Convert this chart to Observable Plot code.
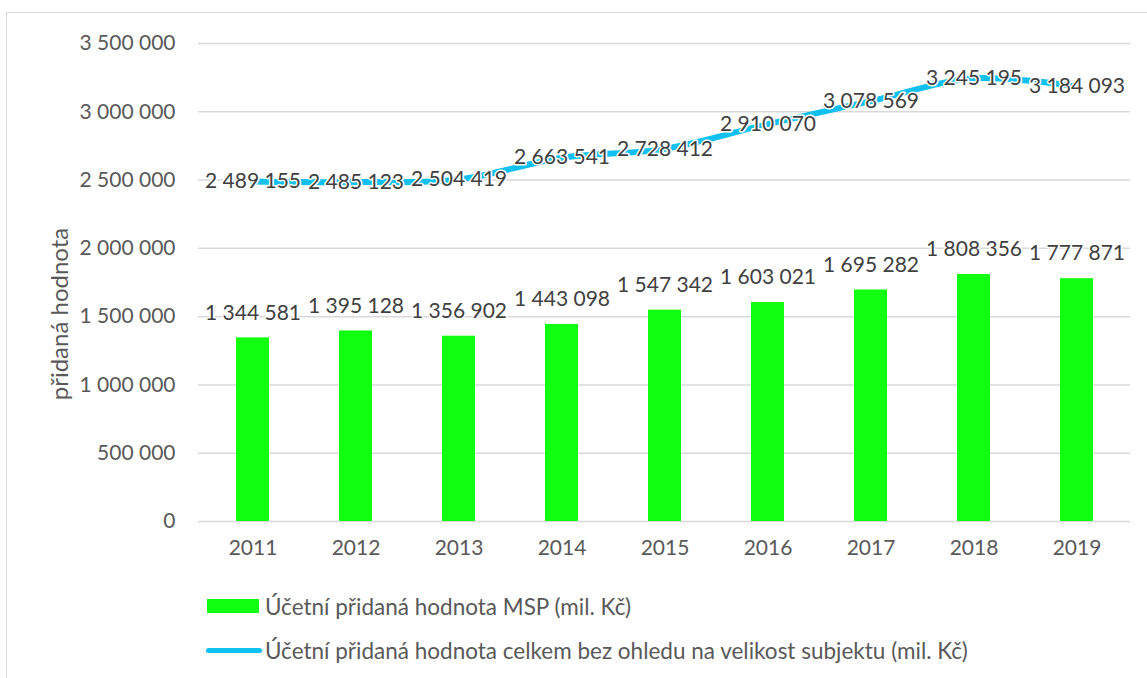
<!DOCTYPE html>
<html>
<head>
<meta charset="utf-8">
<script src="https://cdn.jsdelivr.net/npm/d3@7"></script>
<script src="https://cdn.jsdelivr.net/npm/@observablehq/plot@0.6"></script>
<style>
  html, body { margin: 0; padding: 0; background: #fff; }
  #wrap { position: relative; width: 1147px; height: 678px; overflow: hidden; font-family: Lato, "Open Sans", sans-serif; }
  #frame { position: absolute; left: 6px; top: 12px; width: 1200px; height: 700px; border: 1.5px solid #d9d9d9; pointer-events: none; }
  #ylabel { position: absolute; left: 58px; top: 314px; transform: translate(-50%, -50%) rotate(-90deg); white-space: nowrap; font-size: 24px; color: #595959; }
  .leg { position: absolute; left: 265px; font-size: 22.5px; color: #595959; white-space: nowrap; transform: translateY(-50%); }
  .sw-bar { position: absolute; left: 207px; top: 599px; width: 52px; height: 14px; background: #11ff11; }
  .sw-line { position: absolute; left: 206px; top: 648px; width: 56px; height: 5px; border-radius: 3px; background: #10c0f0; }
</style>
</head>
<body>
<div id="wrap">
  <div id="chart"></div>
  <div id="ylabel">přidaná hodnota</div>
  <div class="sw-bar"></div>
  <div class="leg" style="top:606px">Účetní přidaná hodnota MSP (mil. Kč)</div>
  <div class="sw-line"></div>
  <div class="leg" style="top:650px">Účetní přidaná hodnota celkem bez ohledu na velikost subjektu (mil. Kč)</div>
  <div id="frame"></div>
</div>
<script>
const years = ["2011","2012","2013","2014","2015","2016","2017","2018","2019"];
const msp = [1344581, 1395128, 1356902, 1443098, 1547342, 1603021, 1695282, 1808356, 1777871];
const total = [2489155, 2485123, 2504419, 2663541, 2728412, 2910070, 3078569, 3245195, 3184093];
const yTicks = [0, 500000, 1000000, 1500000, 2000000, 2500000, 3000000, 3500000];

const fmt = v => d3.format(",")(v).replace(/,/g, " ");
const barData = years.map((y, i) => ({year: y, value: msp[i]}));
const lineData = years.map((y, i) => ({year: y, value: total[i]}));

const chart = Plot.plot({
  width: 1147,
  height: 575,
  marginLeft: 198,
  marginRight: 17,
  marginTop: 43,
  marginBottom: 54,
  style: {background: "transparent", fontFamily: "Lato, 'Open Sans', sans-serif", fontSize: "21px", color: "#595959"},
  x: {domain: years, paddingInner: 0.68, paddingOuter: 0.34, label: null},
  y: {domain: [0, 3500000], label: null},
  marks: [
    Plot.gridY(yTicks, {stroke: "#d9d9d9", strokeOpacity: 1, strokeWidth: 1.5}),
    Plot.axisY({ticks: yTicks, tickFormat: fmt, tickSize: 0, tickPadding: 23, label: null, fill: "#595959", fontSize: 21}),
    Plot.axisX({tickSize: 0, tickPadding: 19, label: null, fill: "#595959", fontSize: 21}),
    Plot.barY(barData, {x: "year", y: "value", fill: "#11ff11"}),
    Plot.text(barData, {x: "year", y: "value", text: d => fmt(d.value), dy: -25, fill: "#404040", stroke: "white", strokeWidth: 3, paintOrder: "stroke", fontSize: 21}),
    Plot.line(lineData, {x: "year", y: "value", stroke: "#10c0f0", strokeWidth: 6, curve: "catmull-rom"}),
    Plot.text(lineData, {x: "year", y: "value", text: d => fmt(d.value), fill: "#404040", stroke: "white", strokeWidth: 3, paintOrder: "stroke", fontSize: 21})
  ]
});
document.getElementById("chart").appendChild(chart);
</script>
</body>
</html>
